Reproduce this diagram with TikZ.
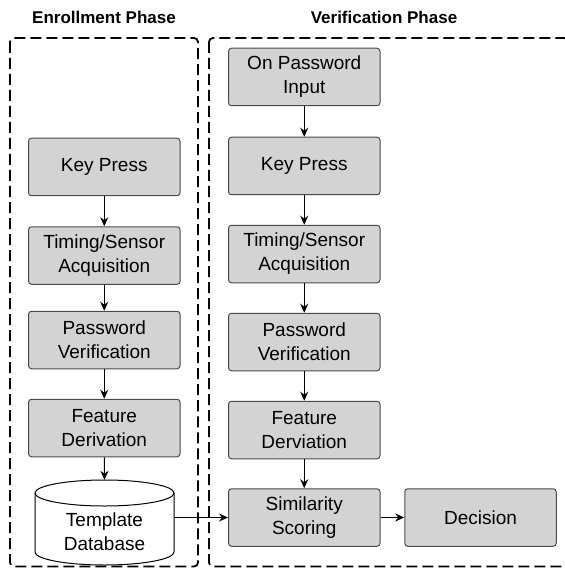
\documentclass[tikz,border=0pt]{standalone}
\usepackage{fontspec}
\setmainfont{Liberation Sans}
\usetikzlibrary{arrows.meta}
\definecolor{boxfill}{HTML}{D3D3D3}
\definecolor{boxline}{HTML}{4A4A4A}
\begin{document}
\begin{tikzpicture}[x=1pt,y=-1pt,
  stepbox/.style={draw=boxline, fill=boxfill, line width=1pt, rounded corners=3pt,
    minimum width=151.5pt, minimum height=57.5pt, align=center, inner sep=0pt,
    font=\fontsize{19}{24}\selectfont},
  phase/.style={draw=black, line width=1.8pt, dash pattern=on 11pt off 5pt, rounded corners=4pt},
  title/.style={font=\fontsize{17}{20}\selectfont\bfseries},
  flow/.style={-{Stealth[length=9pt,width=8pt]}, line width=1pt, black}]
\useasboundingbox (0,0) rectangle (564,569);
% phase frames
\draw[phase] (10,38) rectangle (198,566.5);
\draw[phase] (209,38) rectangle (568,566.5);
\node[title] (t1) at (104,17) {Enrollment Phase};
\node[title] (t2) at (384,17) {Verification Phase};
% enrollment
\node[stepbox] (ekp) at (104.25,167) {Key Press};
\node[stepbox] (etm) at (104.25,255.5) {Timing/Sensor\\Acquisition};
\node[stepbox] (epv) at (104.25,340) {Password\\Verification};
\node[stepbox] (efd) at (104.25,428) {Feature\\Derivation};
% database cylinder
\draw[line width=1pt, fill=white] (35,493) -- (35,552) arc[start angle=180, end angle=360, x radius=69.5pt, y radius=13pt] -- (174,493) arc[start angle=0, end angle=180, x radius=69.5pt, y radius=13pt] -- cycle;
\draw[line width=1pt] (35,493) arc[start angle=180, end angle=360, x radius=69.5pt, y radius=13pt];
\node[minimum width=139pt, minimum height=85pt, inner sep=0pt] (db) at (104.5,522.5) {};
\node[align=center, font=\fontsize{19}{24}\selectfont] (dbt) at (104.5,532) {Template\\Database};
% verification
\node[stepbox] (vop) at (304.25,77) {On Password\\Input};
\node[stepbox] (vkp) at (304.25,166) {Key Press};
\node[stepbox] (vtm) at (304.25,254) {Timing/Sensor\\Acquisition};
\node[stepbox] (vpv) at (304.25,342) {Password\\Verification};
\node[stepbox] (vfd) at (304.25,430) {Feature\\Derviation};
\node[stepbox] (vss) at (304.25,517.5) {Similarity\\Scoring};
\node[stepbox] (vdc) at (480.5,517.5) {Decision};
% connectors
\draw[flow] (ekp) -- (etm);
\draw[flow] (etm) -- (epv);
\draw[flow] (epv) -- (efd);
\draw[flow] (efd) -- (db.north);
\draw[flow] (db.east |- vss.west) -- (vss.west);
\draw[flow] (vop) -- (vkp);
\draw[flow] (vkp) -- (vtm);
\draw[flow] (vtm) -- (vpv);
\draw[flow] (vpv) -- (vfd);
\draw[flow] (vfd) -- (vss);
\draw[flow] (vss) -- (vdc);
\end{tikzpicture}
\end{document}
